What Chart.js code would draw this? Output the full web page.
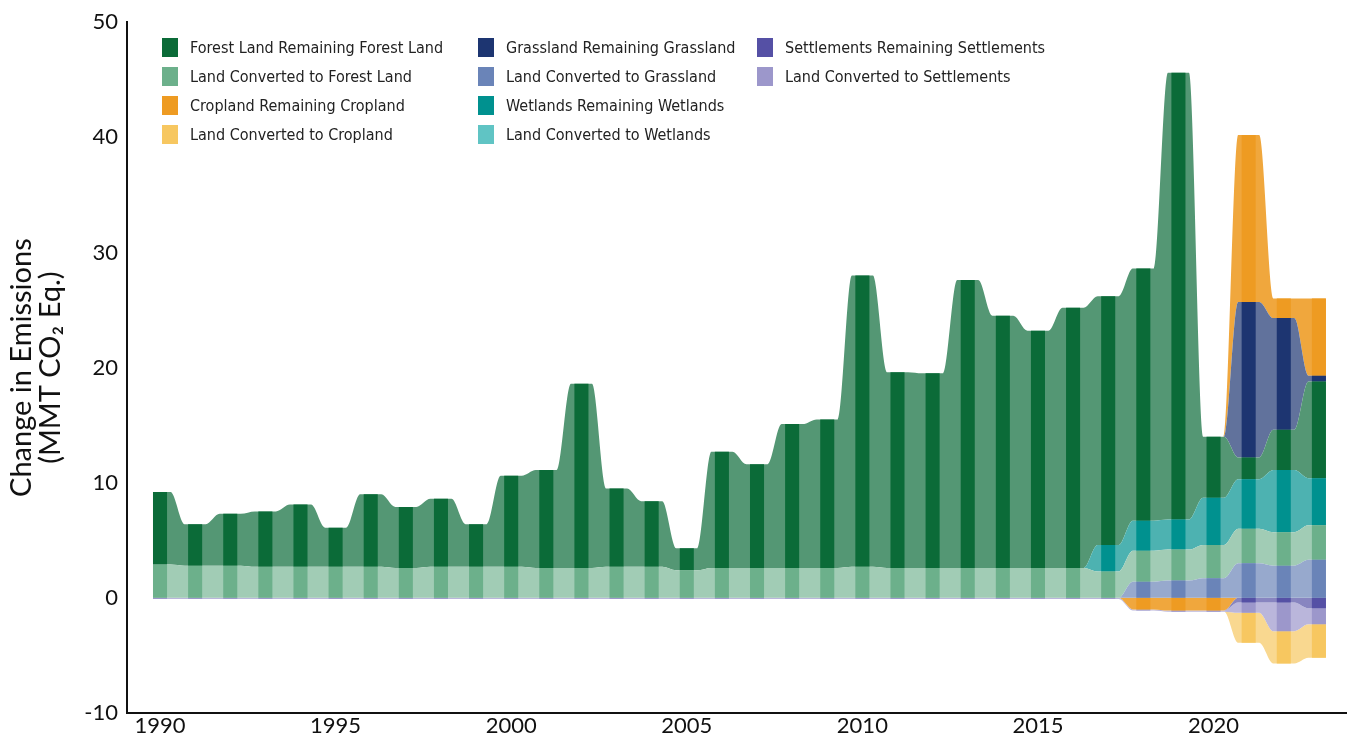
<!DOCTYPE html>
<html>
<head>
<meta charset="utf-8">
<script src="https://cdn.jsdelivr.net/npm/chart.js@4.4.1/dist/chart.umd.min.js"></script>
<style>
body{margin:0;background:#fff;}
#wrap{position:relative;width:1347px;height:736px;}
#legend{position:absolute;left:0;top:0;font-family:"DejaVu Sans Condensed","DejaVu Sans",sans-serif;font-size:16px;color:#222;}
.item{position:absolute;display:flex;align-items:center;white-space:nowrap;height:20px;}
.sw{width:16px;height:19px;margin-right:12px;}
</style>
</head>
<body>
<div id="wrap"><canvas id="chart"></canvas><div id="legend"></div></div>
<script>
const years = [1990,1991,1992,1993,1994,1995,1996,1997,1998,1999,
               2000,2001,2002,2003,2004,2005,2006,2007,2008,2009,
               2010,2011,2012,2013,2014,2015,2016,2017,2018,2019,
               2020,2021,2022,2023];
const yearTicks = [1990,1995,2000,2005,2010,2015,2020];

// values in MMT CO2 Eq., one per year
const forestRemaining = [6.3,3.6,4.5,4.8,5.4,3.4,6.3,5.3,5.9,3.7,
                         7.9,8.5,16.0,6.8,5.7,1.9,10.1,9.0,12.5,12.9,
                         25.3,17.0,16.9,25.0,21.9,20.6,22.6,21.6,21.9,38.8,
                         5.3,1.9,3.5,8.4];
const landToForest = [2.9,2.8,2.8,2.7,2.7,2.7,2.7,2.6,2.7,2.7,
                      2.7,2.6,2.6,2.7,2.7,2.4,2.6,2.6,2.6,2.6,
                      2.7,2.6,2.6,2.6,2.6,2.6,2.6,2.3,2.7,2.7,
                      2.9,3.0,2.9,3.0];
const croplandRemaining = [0,0,0,0,0,0,0,0,0,0,
                           0,0,0,0,0,0,0,0,0,0,
                           0,0,0,0,0,0,0,0,-1.0,-1.1,
                           -1.1,14.5,1.7,6.7];
const landToCropland = [0,0,0,0,0,0,0,0,0,0,
                        0,0,0,0,0,0,0,0,0,0,
                        0,0,0,0,0,0,0,0,0,0,
                        0,-2.6,-2.8,-2.9];
const grasslandRemaining = [0,0,0,0,0,0,0,0,0,0,
                            0,0,0,0,0,0,0,0,0,0,
                            0,0,0,0,0,0,0,0,0,0,
                            0,13.5,9.7,0.5];
const landToGrassland = [0,0,0,0,0,0,0,0,0,0,
                         0,0,0,0,0,0,0,0,0,0,
                         0,0,0,0,0,0,0,0,1.4,1.5,
                         1.7,3.0,2.8,3.3];
const wetlandsRemaining = [0,0,0,0,0,0,0,0,0,0,
                           0,0,0,0,0,0,0,0,0,0,
                           0,0,0,0,0,0,0,2.3,2.6,2.6,
                           4.1,4.3,5.4,4.1];
const landToWetlands = [0,0,0,0,0,0,0,0,0,0,
                        0,0,0,0,0,0,0,0,0,0,
                        0,0,0,0,0,0,0,0,0,0,
                        0,0,0,0];
const settlementsRemaining = [0,0,0,0,0,0,0,0,0,0,
                              0,0,0,0,0,0,0,0,0,0,
                              0,0,0,0,0,0,0,0,0,0,
                              0,-0.4,-0.4,-0.9];
const landToSettlements = [-0.1,-0.1,-0.1,-0.1,-0.1,-0.1,-0.1,-0.1,-0.1,-0.1,
                           -0.1,-0.1,-0.1,-0.1,-0.1,-0.1,-0.1,-0.1,-0.1,-0.1,
                           -0.1,-0.1,-0.1,-0.1,-0.1,-0.1,-0.1,-0.1,-0.1,-0.1,
                           -0.1,-0.9,-2.5,-1.4];

const series = {
    flrfl: {label: "Forest Land Remaining Forest Land", color: "#0b6b38", data: forestRemaining},
    lcfl: {label: "Land Converted to Forest Land", color: "#6cb08b", data: landToForest},
    crc: {label: "Cropland Remaining Cropland", color: "#ee9b22", data: croplandRemaining},
    lcc: {label: "Land Converted to Cropland", color: "#f7c760", data: landToCropland},
    grg: {label: "Grassland Remaining Grassland", color: "#1d3571", data: grasslandRemaining},
    lcg: {label: "Land Converted to Grassland", color: "#6a84b8", data: landToGrassland},
    wrw: {label: "Wetlands Remaining Wetlands", color: "#00918f", data: wetlandsRemaining},
    lcw: {label: "Land Converted to Wetlands", color: "#60c4c4", data: landToWetlands},
    srs: {label: "Settlements Remaining Settlements", color: "#5550a5", data: settlementsRemaining},
    lcs: {label: "Land Converted to Settlements", color: "#9c97cb", data: landToSettlements}
};
// stacking order, from the zero line outwards
const posOrder = ["lcg","lcfl","wrw","lcw","flrfl","grg","crc"];
const negOrder = ["crc","srs","lcs","lcc"];
const legendCols = [["flrfl","lcfl","crc","lcc"],["grg","lcg","wrw","lcw"],["srs","lcs"]];

//mixing a colour with white for the flowing bands
function lighten(hex, t){
    const n = parseInt(hex.slice(1), 16);
    const c = [n >> 16, (n >> 8) & 255, n & 255].map(v => Math.round(v + (255 - v) * t));
    return `rgb(${c[0]},${c[1]},${c[2]})`;
}

//each year is held flat around its stripe, the curve joins to the next year
function bandPoints(values, sign){
    const pts = [];
    values.forEach((v, i) => {
        const y = sign > 0 ? Math.max(v, 0) : Math.min(v, 0);
        const l = i === 0 ? 0.2 : 0.3;
        const r = i === values.length - 1 ? 0.2 : 0.3;
        pts.push({x: years[i] - l, y: y}, {x: years[i] + r, y: y});
    });
    return pts;
}

const datasets = [];
// stripes first so they are drawn over the bands
[...posOrder, "srs", "lcs", "lcc"].forEach(key => {
    const s = series[key];
    datasets.push({
        type: "bar",
        label: s.label,
        data: s.data.map((v, i) => ({x: years[i], y: v})),
        backgroundColor: s.color,
        borderWidth: 0,
        stack: "bars",
        barPercentage: 0.4,
        categoryPercentage: 1
    });
});
const addBands = (order, sign, stack) => {
    order.forEach((key, i) => {
        const s = series[key];
        datasets.push({
            type: "line",
            label: s.label,
            data: bandPoints(s.data, sign),
            stack: stack,
            fill: i === 0 ? "origin" : "-1",
            backgroundColor: lighten(s.color, key === "crc" ? 0.12 : (key === "lcfl" ? 0.36 : 0.3)),
            borderColor: "transparent",
            borderWidth: 0,
            pointRadius: 0,
            cubicInterpolationMode: "monotone"
        });
    });
};
addBands(posOrder, 1, "pos");
addBands(negOrder, -1, "neg");

const legend = document.getElementById("legend");
const colX = [162, 478, 757];
const rowY = [47, 76, 105, 134];
legendCols.forEach((col, c) => {
    col.forEach((key, r) => {
        const item = document.createElement("div");
        item.className = "item";
        item.style.left = colX[c] + "px";
        item.style.top = (rowY[r] - 10) + "px";
        item.innerHTML = `<span class="sw" style="background:${series[key].color}"></span><span>${series[key].label}</span>`;
        legend.appendChild(item);
    });
});

const tickFont = {family: "Lato, 'DejaVu Sans', sans-serif", size: 22};
new Chart(document.getElementById("chart"), {
    type: "bar",
    data: {datasets: datasets},
    options: {
        responsive: true,
        maintainAspectRatio: false,
        animation: false,
        layout: {padding: {top: 18, right: 0, bottom: 0, left: 0}},
        plugins: {legend: {display: false}, tooltip: {enabled: false}},
        scales: {
            x: {
                type: "linear",
                min: 1989.06,
                max: 2023.8,
                offset: false,
                grid: {display: false, drawTicks: false},
                border: {display: true, color: "#111", width: 2},
                afterBuildTicks: axis => { axis.ticks = yearTicks.map(v => ({value: v})); },
                afterFit: axis => { axis.height = 23; },
                ticks: {padding: 0, color: "#111", font: tickFont, maxRotation: 0, callback: v => String(v)}
            },
            y: {
                stacked: true,
                min: -10,
                max: 50,
                grid: {display: false, drawTicks: false},
                border: {display: true, color: "#111", width: 2},
                afterFit: axis => { axis.width = 127; },
                ticks: {stepSize: 10, padding: 9, color: "#111", font: tickFont},
                title: {
                    display: true,
                    text: ["Change in Emissions", "(MMT CO\u2082 Eq.)"],
                    color: "#111",
                    padding: {top: 8},
                    font: {family: "Lato, 'DejaVu Sans', sans-serif", size: 29, lineHeight: 0.97}
                }
            }
        }
    }
});
</script>
</body>
</html>
